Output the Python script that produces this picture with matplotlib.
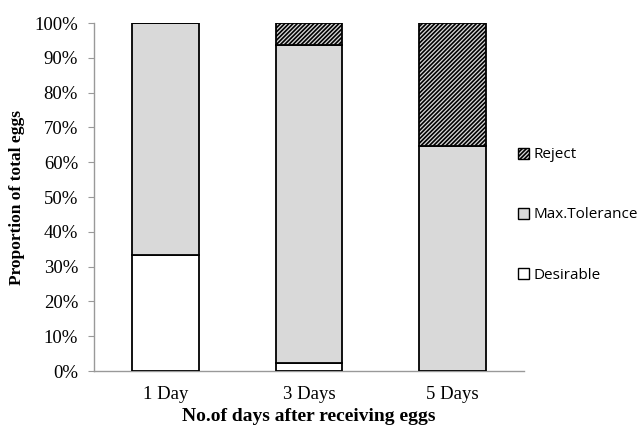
import matplotlib
matplotlib.use("Agg")
from matplotlib import pyplot as plt
from matplotlib.patches import Patch
import numpy as np

days = ["1 Day", "3 Days", "5 Days"]
desirable = [33.3, 2.2, 0.0]
max_tolerance = [66.7, 91.5, 64.7]
reject = [0.0, 6.3, 35.3]

plt.rcParams["hatch.color"] = "#606060"
plt.rcParams["hatch.linewidth"] = 1.2

fig = plt.figure(figsize=(6.38, 4.29), dpi=100)
ax = fig.add_axes([94 / 638, 1 - 371 / 429, 430 / 638, 348 / 429])

x = np.arange(len(days))
w = 0.467
d = np.array(desirable)
m = np.array(max_tolerance)
r = np.array(reject)

ax.bar(x, d, w, color="white", edgecolor="black", linewidth=1.3, zorder=3)
ax.bar(x, m, w, bottom=d, color="#d9d9d9", edgecolor="black", linewidth=1.3, zorder=3)
ax.bar(x, r, w, bottom=d + m, color="#d9d9d9", edgecolor="black", linewidth=1.3,
       hatch="////////", zorder=3)

ax.set_xlim(-0.5, 2.5)
ax.set_ylim(0, 100)
ax.set_yticks(np.arange(0, 101, 10))
ax.set_yticklabels([f"{v}%" for v in range(0, 101, 10)],
                   family="Liberation Serif", fontsize=13.5)
ax.set_xticks(x)
ax.set_xticklabels(days, family="Liberation Serif", fontsize=13.5)
ax.tick_params(axis="y", length=4.5, color="#999999", pad=7)
ax.tick_params(axis="x", length=0, pad=11)

for s in ["top", "right"]:
    ax.spines[s].set_visible(False)
for s in ["left", "bottom"]:
    ax.spines[s].set_color("#999999")
    ax.spines[s].set_linewidth(1.0)

ax.set_ylabel("Proportion of total eggs", family="Liberation Serif",
              fontweight="bold", fontsize=12.5)
ax.yaxis.set_label_coords(-0.16, 0.5)
ax.set_xlabel("No.of days after receiving eggs", family="Liberation Serif",
              fontweight="bold", fontsize=14)
ax.xaxis.set_label_coords(0.5, -0.105)

handles = [
    Patch(facecolor="#d9d9d9", edgecolor="black", hatch="////////", label="Reject"),
    Patch(facecolor="#d9d9d9", edgecolor="black", label="Max.Tolerance"),
    Patch(facecolor="white", edgecolor="black", label="Desirable"),
]
leg = fig.legend(handles=handles, loc="center left",
                 bbox_to_anchor=(518 / 638, 1 - 215 / 429), frameon=False,
                 prop={"family": "Open Sans", "size": 11},
                 handlelength=0.75, handleheight=0.75, handletextpad=0.25,
                 labelspacing=2.95, borderaxespad=0, borderpad=0)

fig.savefig("out.png", dpi=100)
